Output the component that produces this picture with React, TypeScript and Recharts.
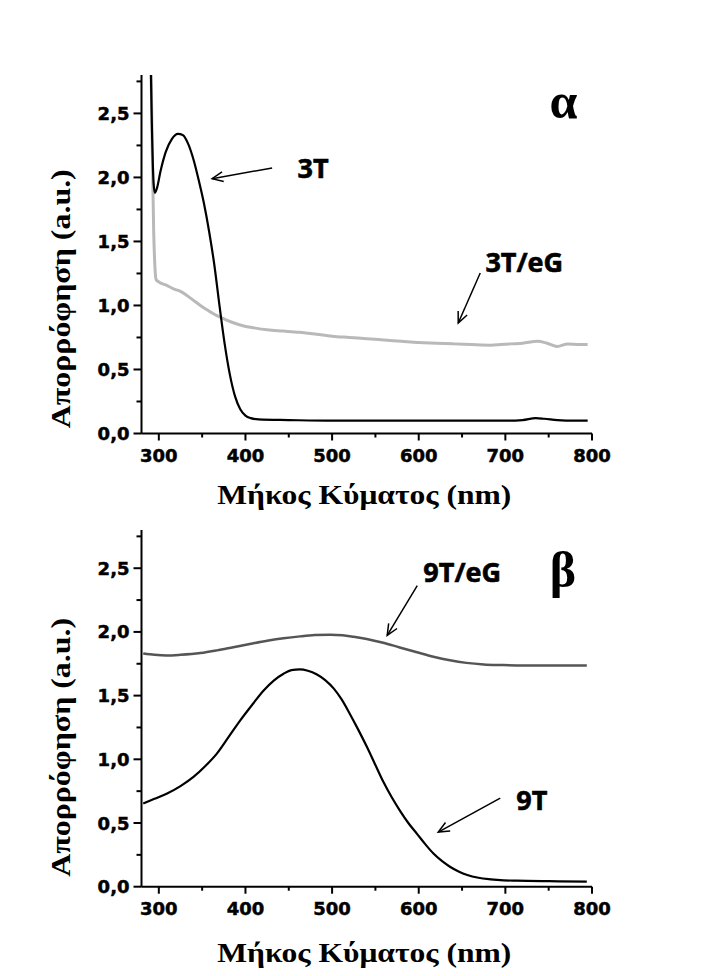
import React from "react";
import { LineChart, Line, XAxis, YAxis, ReferenceLine, ReferenceDot, Label } from "recharts";

// panel α
const wl3T = [290.5, 292, 294, 295.5, 298, 302, 308, 315, 322, 328, 334, 340, 346, 352, 358, 364, 370, 376, 382, 388, 394, 400, 406, 415, 450, 500, 550, 600, 650, 700, 720, 735, 745, 760, 780, 795];
const abs3T = [2.95, 2.4, 1.95, 1.88, 1.92, 2.05, 2.2, 2.3, 2.34, 2.33, 2.26, 2.14, 1.98, 1.8, 1.58, 1.32, 1.0, 0.7, 0.46, 0.29, 0.19, 0.14, 0.12, 0.11, 0.105, 0.1, 0.1, 0.1, 0.1, 0.1, 0.105, 0.12, 0.115, 0.105, 0.1, 0.1];
const wl3TeG = [290.8, 292.5, 294, 295.5, 297, 301, 308, 317, 325, 332, 340, 348, 357, 367, 377, 386, 398, 410, 425, 444, 462, 482, 500, 520, 540, 560, 580, 600, 620, 640, 660, 683, 695, 706, 720, 737, 748, 760, 772, 785, 795];
const abs3TeG = [2.95, 2.2, 1.6, 1.3, 1.2, 1.18, 1.16, 1.13, 1.11, 1.08, 1.04, 1.0, 0.96, 0.92, 0.89, 0.865, 0.84, 0.825, 0.81, 0.8, 0.79, 0.775, 0.76, 0.75, 0.74, 0.73, 0.72, 0.71, 0.705, 0.7, 0.695, 0.69, 0.695, 0.7, 0.705, 0.72, 0.705, 0.68, 0.7, 0.695, 0.695];

// panel β
const wl9T = [282, 295, 309, 325, 340, 354, 367, 380, 394, 408, 421, 433, 444, 453, 463, 472, 482, 492, 502, 511, 521, 530, 540, 550, 559, 569, 579, 588, 598, 608, 617, 627, 636, 646, 656, 669, 683, 698, 713, 750, 794];
const abs9T = [0.653, 0.69, 0.73, 0.79, 0.862, 0.95, 1.045, 1.17, 1.306, 1.43, 1.54, 1.62, 1.672, 1.7, 1.706, 1.695, 1.668, 1.622, 1.555, 1.47, 1.35, 1.235, 1.1, 0.955, 0.825, 0.7, 0.59, 0.5, 0.415, 0.33, 0.26, 0.2, 0.157, 0.12, 0.092, 0.07, 0.058, 0.05, 0.047, 0.043, 0.04];
const wl9TeG = [282, 295, 309, 325, 348, 367, 386, 405, 425, 444, 463, 480, 498, 512, 525, 540, 559, 578, 598, 617, 636, 655, 675, 694, 713, 750, 794];
const abs9TeG = [1.83, 1.82, 1.815, 1.82, 1.834, 1.855, 1.88, 1.905, 1.93, 1.95, 1.965, 1.975, 1.978, 1.974, 1.962, 1.945, 1.915, 1.878, 1.84, 1.805, 1.777, 1.757, 1.745, 1.74, 1.737, 1.737, 1.737];

const xTicks = [300, 350, 400, 450, 500, 550, 600, 650, 700, 750, 800];
const yTicks = [0, 0.25, 0.5, 0.75, 1, 1.25, 1.5, 1.75, 2, 2.25, 2.5, 2.75];

const xTitle = "Μήκος Κύματος (nm)";
const yTitle = "Απορρόφηση (a.u.)";

const toPoints = (xs: number[], ys: number[]) => xs.map((x, i) => ({ x, y: ys[i] }));

const tickFont = {
  fontFamily: "DejaVu Sans",
  fontWeight: "bold",
  fontSize: 18,
  stroke: "#000",
  strokeWidth: 0.5,
} as const;
const serif = "Liberation Serif, Times New Roman, serif";

const XTick = (props: any) => {
  const { x, y, payload } = props;
  const major = payload.value % 100 === 0;
  return (
    <g>
      <line x1={x} x2={x} y1={y} y2={y + (major ? 7 : 4)} stroke="#000" strokeWidth={2} />
      {major && (
        <text x={x} y={y + 28} textAnchor="middle" fill="#000" {...tickFont}>
          {payload.value}
        </text>
      )}
    </g>
  );
};

const YTick = (props: any) => {
  const { x, y, payload } = props;
  const major = Math.abs(payload.value * 2 - Math.round(payload.value * 2)) < 1e-6;
  return (
    <g>
      <line x1={x - (major ? 8 : 5)} x2={x} y1={y} y2={y} stroke="#000" strokeWidth={2} />
      {major && (
        <text x={x - 12} y={y + 6.5} textAnchor="end" fill="#000" {...tickFont}>
          {payload.value.toFixed(1).replace(".", ",")}
        </text>
      )}
    </g>
  );
};

const Arrow = (props: any) => {
  const { x1, y1, x2, y2 } = props;
  const a = Math.atan2(y2 - y1, x2 - x1);
  const len = 12;
  const w = 0.42;
  const h1 = `${x2 - len * Math.cos(a - w)},${y2 - len * Math.sin(a - w)}`;
  const h2 = `${x2 - len * Math.cos(a + w)},${y2 - len * Math.sin(a + w)}`;
  return (
    <g stroke="#000" strokeWidth={1.5} fill="none">
      <line x1={x1} y1={y1} x2={x2} y2={y2} />
      <polyline points={`${h1} ${x2},${y2} ${h2}`} />
    </g>
  );
};

const tagShape = (text: string, big: boolean) => (p: any) => (
  <text
    x={p.cx}
    y={p.cy}
    textAnchor="middle"
    fill="#000"
    fontFamily={big ? serif : "Open Sans"}
    fontWeight="bold"
    fontSize={big ? 50 : 27}
    stroke={big ? "none" : "#000"}
    strokeWidth={0.6}
  >
    {text}
  </text>
);

interface Note {
  text: string;
  at: [number, number];
  big?: boolean;
  from?: [number, number];
  to?: [number, number];
}

const notesA: Note[] = [
  { text: "α", at: [767, 2.465], big: true },
  { text: "3T", at: [478, 1.996], from: [430.8, 2.074], to: [361.5, 1.99] },
  { text: "3T/eG", at: [721.8, 1.262], from: [671, 1.254], to: [645.6, 0.863] },
];

const notesB: Note[] = [
  { text: "β", at: [766.3, 2.349], big: true },
  { text: "9T/eG", at: [650.2, 2.388], from: [598.3, 2.364], to: [563.6, 1.973] },
  { text: "9T", at: [730.5, 0.601], from: [694.1, 0.695], to: [622.5, 0.429] },
];

interface PanelProps {
  top: number;
  height: number;
  plotTop: number;
  xAxisHeight: number;
  yTitleDy: number;
  xTitleDy: number;
  series: { points: { x: number; y: number }[]; color: string; width: number; name: string }[];
  notes: Note[];
}

const Panel = ({ top, height, plotTop, xAxisHeight, yTitleDy, xTitleDy, series, notes }: PanelProps) => (
  <div style={{ position: "absolute", left: 0, top, width: 703, height }}>
    <LineChart width={703} height={height} margin={{ top: plotTop, right: 111, bottom: 0, left: 0 }}>
      <XAxis
        type="number"
        dataKey="x"
        domain={[280, 800]}
        ticks={xTicks}
        allowDataOverflow
        height={xAxisHeight}
        tickSize={0}
        tickMargin={0}
        tickLine={false}
        tick={<XTick />}
        axisLine={{ stroke: "#000", strokeWidth: 2 }}
      >
        <Label
          content={(p: any) => (
            <text
              x={p.viewBox.x + p.viewBox.width / 2 - 2.5}
              y={p.viewBox.y + xTitleDy}
              textAnchor="middle"
              fontFamily={serif}
              fontWeight="bold"
              fontSize={28}
              textLength={294}
              lengthAdjust="spacingAndGlyphs"
              fill="#000"
            >
              {xTitle}
            </text>
          )}
        />
      </XAxis>
      <YAxis
        type="number"
        domain={[0, 2.8]}
        ticks={yTicks}
        allowDataOverflow
        width={141.5}
        tickSize={0}
        tickMargin={0}
        tickLine={false}
        tick={<YTick />}
        axisLine={{ stroke: "#000", strokeWidth: 2 }}
      >
        <Label
          content={(p: any) => {
            const cx = 70;
            const cy = p.viewBox.y + p.viewBox.height / 2 + yTitleDy;
            return (
              <text
                x={cx}
                y={cy}
                transform={`rotate(-90 ${cx} ${cy})`}
                textAnchor="middle"
                fontFamily={serif}
                fontWeight="bold"
                fontSize={28}
                textLength={259}
                lengthAdjust="spacingAndGlyphs"
                fill="#000"
              >
                {yTitle}
              </text>
            );
          }}
        />
      </YAxis>
      {series.map((s) => (
        <Line
          key={s.name}
          data={s.points}
          dataKey="y"
          type="monotone"
          stroke={s.color}
          strokeWidth={s.width}
          dot={false}
          isAnimationActive={false}
        />
      ))}
      {notes
        .filter((n) => n.from && n.to)
        .map((n) => (
          <ReferenceLine
            key={"a" + n.text}
            segment={[
              { x: n.from![0], y: n.from![1] },
              { x: n.to![0], y: n.to![1] },
            ]}
            ifOverflow="visible"
            shape={<Arrow />}
          />
        ))}
      {notes.map((n) => (
        <ReferenceDot
          key={"t" + n.text}
          x={n.at[0]}
          y={n.at[1]}
          r={0}
          ifOverflow="visible"
          shape={tagShape(n.text, !!n.big)}
        />
      ))}
    </LineChart>
  </div>
);

export default function App() {
  return (
    <div style={{ position: "absolute", left: 0, top: 0, width: 703, height: 976, background: "#fff" }}>
      <Panel
        top={0}
        height={530}
        plotTop={75}
        xAxisHeight={96.5}
        yTitleDy={44.5}
        xTitleDy={70.5}
        notes={notesA}
        series={[
          { name: "3T/eG", points: toPoints(wl3TeG, abs3TeG), color: "#b9b9b9", width: 3 },
          { name: "3T", points: toPoints(wl3T, abs3T), color: "#000", width: 2.2 },
        ]}
      />
      <Panel
        top={488}
        height={488}
        plotTop={42}
        xAxisHeight={89.3}
        yTitleDy={39}
        xTitleDy={75.3}
        notes={notesB}
        series={[
          { name: "9T/eG", points: toPoints(wl9TeG, abs9TeG), color: "#555", width: 2.5 },
          { name: "9T", points: toPoints(wl9T, abs9T), color: "#000", width: 2.2 },
        ]}
      />
    </div>
  );
}
